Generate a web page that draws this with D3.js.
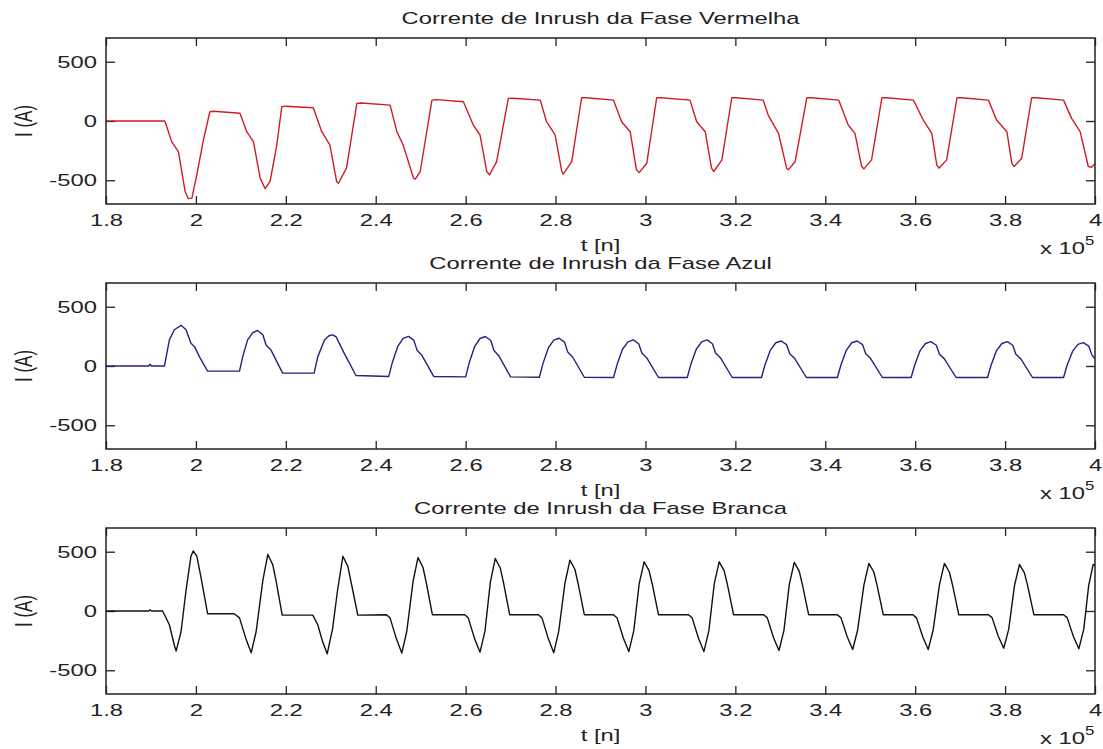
<!DOCTYPE html>
<html>
<head>
<meta charset="utf-8">
<script src="https://cdn.jsdelivr.net/npm/d3@7"></script>
<style>
  body { margin: 0; background: #fff; }
  svg text { font-family: "Liberation Sans", Arial, sans-serif; fill: #222; }
</style>
</head>
<body>
<svg id="chart" width="1103" height="749"></svg>
<script>
// Valeurs : t en unités de 10^5 échantillons, I en ampères
const titles = [
    "Corrente de Inrush da Fase Vermelha",
    "Corrente de Inrush da Fase Azul",
    "Corrente de Inrush da Fase Branca"
];

const xTickValues = [1.8, 2.0, 2.2, 2.4, 2.6, 2.8, 3.0, 3.2, 3.4, 3.6, 3.8, 4.0];
const xTickLabels = ["1.8", "2", "2.2", "2.4", "2.6", "2.8", "3", "3.2", "3.4", "3.6", "3.8", "4"];
const yTickValues = [-500, 0, 500];
const yTickLabels = ["-500", "0", "500"];

// Fase vermelha
const redSamples = [
    [1.800, 0], [1.931, 0], [1.946, -174], [1.961, -258], [1.976, -594], [1.983, -655], [1.991, -650],
    [2.002, -454], [2.016, -174], [2.031, 78], [2.040, 82], [2.098, 65],
    [2.113, -90], [2.128, -174], [2.143, -482], [2.154, -571], [2.165, -510], [2.180, -202], [2.191, 120], [2.200, 125], [2.261, 112],
    [2.280, -90], [2.298, -202], [2.313, -510], [2.317, -525], [2.335, -398], [2.358, 149], [2.368, 152], [2.432, 134],
    [2.447, -90], [2.461, -202], [2.484, -482], [2.488, -490], [2.499, -426], [2.525, 176], [2.535, 180], [2.595, 162],
    [2.617, -34], [2.632, -118], [2.647, -426], [2.653, -454], [2.669, -342], [2.695, 191], [2.705, 192], [2.766, 176],
    [2.780, -6], [2.799, -118], [2.814, -426], [2.817, -448], [2.836, -342], [2.858, 196], [2.868, 196], [2.929, 176],
    [2.947, -6], [2.966, -90], [2.980, -412], [2.986, -435], [3.003, -356], [3.025, 196], [3.035, 196], [3.099, 176],
    [3.114, -6], [3.133, -90], [3.147, -398], [3.152, -426], [3.170, -328], [3.192, 196], [3.202, 196], [3.262, 176],
    [3.273, 50], [3.296, -104], [3.314, -398], [3.318, -412], [3.333, -342], [3.359, 196], [3.369, 196], [3.430, 176],
    [3.451, -34], [3.466, -104], [3.481, -384], [3.486, -404], [3.503, -328], [3.526, 196], [3.536, 196], [3.596, 176],
    [3.618, 8], [3.637, -104], [3.648, -370], [3.653, -398], [3.670, -328], [3.693, 196], [3.703, 196], [3.763, 176],
    [3.781, 8], [3.804, -90], [3.815, -356], [3.820, -384], [3.837, -314], [3.859, 196], [3.869, 196], [3.930, 176],
    [3.948, 22], [3.967, -90], [3.985, -384], [3.992, -390], [4.000, -360]
];

// Fase azul
const blueSamples = [
    [1.800, 0], [1.895, 0], [1.898, 15], [1.901, 0], [1.930, 0],
    [1.934, 80], [1.941, 220], [1.952, 306], [1.967, 343], [1.978, 306], [1.989, 191], [1.997, 163], [2.008, 77], [2.026, -43], [2.097, -43],
    [2.104, 77], [2.115, 220], [2.126, 280], [2.137, 300], [2.149, 263], [2.156, 177], [2.167, 134], [2.193, -60], [2.263, -60],
    [2.271, 77], [2.286, 220], [2.296, 255], [2.304, 263], [2.312, 245], [2.319, 191], [2.330, 106], [2.356, -80],
    [2.429, -88], [2.437, 30], [2.449, 166], [2.461, 233], [2.473, 250], [2.485, 216], [2.492, 132], [2.503, 88], [2.529, -88],
    [2.600, -92], [2.608, 27], [2.620, 164], [2.632, 232], [2.644, 249], [2.656, 215], [2.663, 130], [2.674, 85], [2.700, -92],
    [2.764, -95], [2.772, 20], [2.784, 152], [2.796, 218], [2.808, 234], [2.820, 201], [2.827, 119], [2.838, 76], [2.864, -95],
    [2.929, -97], [2.937, 14], [2.949, 141], [2.961, 204], [2.973, 220], [2.985, 188], [2.992, 109], [3.003, 68], [3.029, -97],
    [3.093, -97], [3.101, 14], [3.113, 141], [3.125, 204], [3.137, 220], [3.149, 188], [3.156, 109], [3.167, 68], [3.193, -97],
    [3.258, -97], [3.266, 11], [3.278, 134], [3.290, 196], [3.302, 211], [3.314, 180], [3.321, 103], [3.332, 63], [3.358, -97],
    [3.427, -97], [3.435, 11], [3.447, 134], [3.459, 196], [3.471, 211], [3.483, 180], [3.490, 103], [3.501, 63], [3.527, -97],
    [3.591, -97], [3.599, 9], [3.611, 130], [3.623, 190], [3.635, 205], [3.647, 175], [3.654, 99], [3.665, 60], [3.691, -97],
    [3.761, -97], [3.769, 9], [3.781, 130], [3.793, 190], [3.805, 205], [3.817, 175], [3.824, 99], [3.835, 60], [3.861, -97],
    [3.930, -97], [3.938, 6], [3.950, 123], [3.962, 182], [3.974, 197], [3.986, 168], [3.993, 94], [4.000, 60]
];

// Fase branca
const blackSamples = [
    [1.800, 0], [1.895, 0], [1.898, 10], [1.901, 0], [1.926, 0],
    [1.941, -116], [1.952, -289], [1.956, -338], [1.967, -173], [1.978, 173], [1.989, 462], [1.994, 506], [2.002, 462], [2.011, 289], [2.026, -23], [2.085, -23],
    [2.097, -58], [2.111, -231], [2.123, -353], [2.134, -173], [2.149, 260], [2.160, 477], [2.171, 390], [2.178, 260], [2.192, -35], [2.260, -35],
    [2.271, -116], [2.282, -260], [2.292, -361], [2.304, -150], [2.315, 173], [2.327, 462], [2.338, 376], [2.349, 173], [2.360, -35], [2.424, -31],
    [2.432, -60], [2.446, -235], [2.458, -355], [2.469, -173], [2.483, 248], [2.494, 450], [2.505, 369], [2.512, 248], [2.526, -31],
    [2.598, -31], [2.606, -60], [2.620, -235], [2.632, -347], [2.643, -170], [2.655, 244], [2.666, 443], [2.677, 363], [2.684, 244], [2.698, -31],
    [2.762, -31], [2.770, -60], [2.784, -235], [2.796, -353], [2.807, -172], [2.821, 236], [2.832, 429], [2.843, 352], [2.850, 236], [2.864, -31],
    [2.929, -31], [2.937, -60], [2.951, -230], [2.963, -342], [2.974, -168], [2.986, 228], [2.997, 415], [3.008, 340], [3.015, 228], [3.029, -31],
    [3.096, -31], [3.104, -60], [3.118, -230], [3.130, -342], [3.141, -168], [3.153, 228], [3.164, 415], [3.175, 340], [3.182, 228], [3.196, -31],
    [3.263, -31], [3.271, -58], [3.285, -225], [3.297, -333], [3.308, -165], [3.320, 225], [3.331, 410], [3.342, 336], [3.349, 225], [3.363, -31],
    [3.427, -31], [3.435, -58], [3.449, -220], [3.461, -325], [3.472, -160], [3.486, 220], [3.497, 401], [3.508, 329], [3.515, 220], [3.529, -31],
    [3.595, -31], [3.603, -58], [3.617, -220], [3.629, -325], [3.640, -160], [3.654, 220], [3.665, 401], [3.676, 329], [3.683, 220], [3.697, -31],
    [3.763, -31], [3.771, -56], [3.785, -215], [3.797, -314], [3.808, -155], [3.821, 216], [3.832, 393], [3.843, 322], [3.850, 216], [3.864, -31],
    [3.930, -31], [3.938, -56], [3.952, -215], [3.964, -319], [3.975, -155], [3.986, 216], [3.996, 393], [4.000, 385]
];

// Mise en page (l'image d'origine est étirée horizontalement)
const left = 106, right = 1095, boxH = 166;
const tops = [38, 283, 528];
const SX = 1.4;
const ink = "#222";

const phases = [
    { title: titles[0], samples: redSamples, color: "#cf1d26" },
    { title: titles[1], samples: blueSamples, color: "#23237e" },
    { title: titles[2], samples: blackSamples, color: "#111" }
];

const svg = d3.select("#chart");
const x = d3.scaleLinear().domain([1.8, 4]).range([left, right]);

phases.forEach((phase, k) => {
    const top = tops[k], bottom = top + boxH;
    const y = d3.scaleLinear().domain([-700, 700]).range([bottom, top]);
    const g = svg.append("g");

    g.append("clipPath").attr("id", "clip" + k)
        .append("rect")
        .attr("x", left).attr("y", top)
        .attr("width", right - left).attr("height", boxH);

    // Axes style MATLAB : graduations vers l'intérieur sur les quatre côtés
    const xLabel = d => xTickLabels[xTickValues.indexOf(d)];
    const yLabel = d => yTickLabels[yTickValues.indexOf(d)];

    const axes = [
        { axis: d3.axisBottom(x).tickValues(xTickValues).tickFormat(xLabel).tickSizeInner(-8).tickPadding(10), at: `translate(0,${bottom})` },
        { axis: d3.axisTop(x).tickValues(xTickValues).tickFormat("").tickSizeInner(-8), at: `translate(0,${top})` },
        { axis: d3.axisLeft(y).tickValues(yTickValues).tickFormat(yLabel).tickSizeInner(-9).tickPadding(6.5), at: `translate(${left},0)` },
        { axis: d3.axisRight(y).tickValues(yTickValues).tickFormat("").tickSizeInner(-9), at: `translate(${right},0)` }
    ];

    axes.forEach(a => {
        const ag = g.append("g")
            .attr("transform", a.at)
            .call(a.axis.tickSizeOuter(0));
        ag.select(".domain").remove();
        ag.selectAll(".tick line").attr("stroke", ink).attr("stroke-width", 1.3);
        ag.selectAll(".tick text")
            .attr("fill", ink)
            .style("font-size", "17px")
            .style("font-family", "'Liberation Sans', Arial, sans-serif")
            .attr("transform", `scale(${SX},1)`);
    });

    // Courbe du courant
    const line = d3.line()
        .x(d => x(d[0]))
        .y(d => y(d[1]));

    g.append("path")
        .datum(phase.samples)
        .attr("clip-path", `url(#clip${k})`)
        .attr("fill", "none")
        .attr("stroke", phase.color)
        .attr("stroke-width", 1.4)
        .attr("stroke-linejoin", "round")
        .attr("d", line);

    // Cadre
    g.append("rect")
        .attr("x", left).attr("y", top)
        .attr("width", right - left).attr("height", boxH)
        .attr("fill", "none")
        .attr("stroke", ink)
        .attr("stroke-width", 1.5);

    const cx = (left + right) / 2;

    // Titre
    g.append("text")
        .attr("transform", `translate(${cx},${top - 14}) scale(${SX},1)`)
        .attr("text-anchor", "middle")
        .style("font-size", "17px")
        .text(phase.title);

    // Légende de l'axe des x
    g.append("text")
        .attr("transform", `translate(${cx},${bottom + 47}) scale(${SX},1)`)
        .attr("text-anchor", "middle")
        .style("font-size", "17px")
        .text("t [n]");

    // Facteur d'échelle x 10^5
    g.append("text")
        .attr("transform", `translate(1040,${bottom + 50}) scale(${SX},1)`)
        .style("font-size", "17px")
        .text("x 10");
    g.append("text")
        .attr("transform", `translate(1085,${bottom + 41}) scale(${SX},1)`)
        .style("font-size", "12px")
        .text("5");

    // Légende de l'axe des y
    g.append("text")
        .attr("transform", `translate(32,${(top + bottom) / 2}) scale(${SX},1) rotate(-90)`)
        .attr("text-anchor", "middle")
        .style("font-size", "17px")
        .text("I (A)");
});
</script>
</body>
</html>
